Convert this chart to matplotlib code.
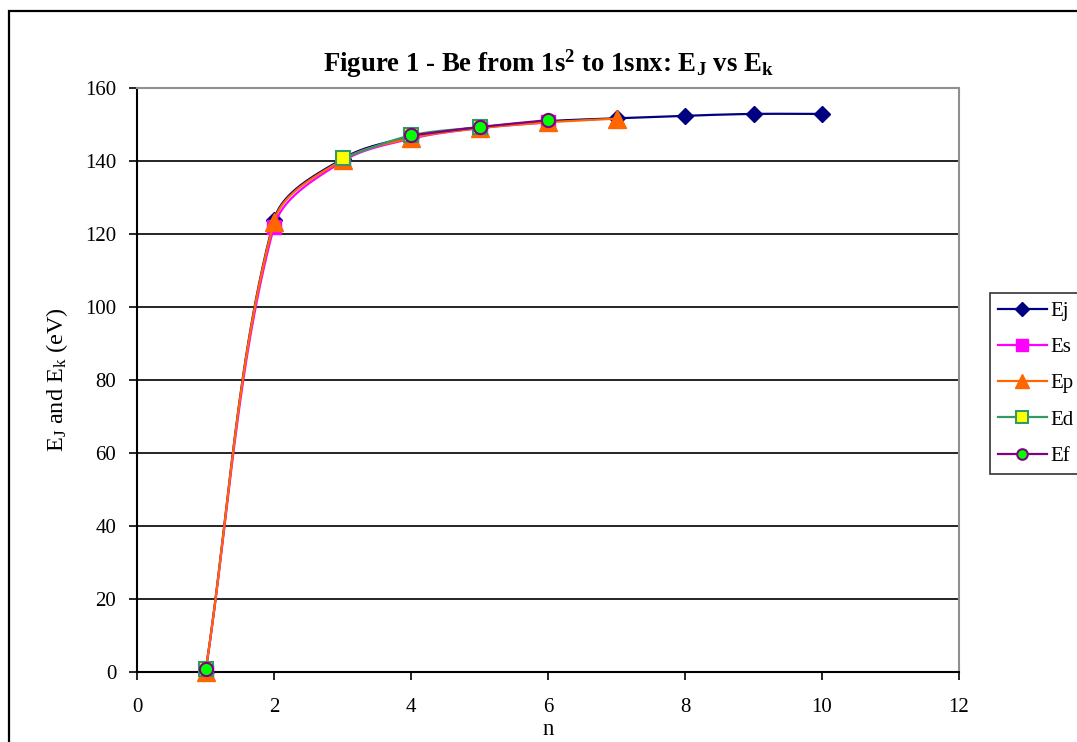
import numpy as np
import matplotlib
matplotlib.use("Agg")
from matplotlib import pyplot as plt
from matplotlib.patches import Rectangle

"""
Be from 1s^2 to 1snx: E_J vs E_k, Excel style smoothed lines
"""

plt.rcParams['font.family'] = ['Liberation Serif', 'DejaVu Serif']
plt.rcParams['mathtext.fontset'] = 'custom'
plt.rcParams['mathtext.rm'] = 'Liberation Serif'
plt.rcParams['mathtext.it'] = 'Liberation Serif'
plt.rcParams['mathtext.bf'] = 'Liberation Serif:bold'

# data
n_j = [1, 2, 3, 4, 5, 6, 7, 8, 9, 10]
e_j = [0.0, 123.8, 140.6, 146.6, 149.2, 150.9, 151.7, 152.4, 152.9, 152.9]
n_s = [1, 2, 3, 4, 5, 6]
e_s = [0.0, 122.0, 139.9, 146.1, 149.0, 150.6]
n_p = [1, 2, 3, 4, 5, 6, 7]
e_p = [0.0, 123.4, 140.3, 146.3, 149.0, 150.6, 151.6]
n_d = [1, 3, 4, 5]
e_d = [0.7, 140.8, 147.0, 149.3]
n_f = [1, 4, 5, 6]
e_f = [0.7, 147.0, 149.3, 151.2]

x_ticks = [0, 2, 4, 6, 8, 10, 12]
y_ticks = [0, 20, 40, 60, 80, 100, 120, 140, 160]

# pixel scale of the plot area, so the smoothing works in screen space
SX = 822 / 12.
SY = 584 / 160.


def smooth(xs, ys, k=30):
    # chord-length catmull-rom, close to excel's smoothed line
    p = np.column_stack([np.array(xs) * SX, np.array(ys) * SY]).astype(float)
    p = np.vstack([p[0], p, p[-1]])
    t = np.linspace(0, 1, k)[:, None]
    out = []
    for i in range(1, len(p) - 2):
        p0, p1, p2, p3 = p[i - 1], p[i], p[i + 1], p[i + 2]
        d01 = np.hypot(*(p1 - p0))
        d12 = np.hypot(*(p2 - p1))
        d23 = np.hypot(*(p3 - p2))
        m1 = (p2 - p0) / max(d01 + d12, 1e-9)
        m2 = (p3 - p1) / max(d12 + d23, 1e-9)
        c1 = p1 + m1 * d12 / 3.
        c2 = p2 - m2 * d12 / 3.
        seg = ((1 - t) ** 3) * p1 + 3 * ((1 - t) ** 2) * t * c1 + 3 * (1 - t) * t ** 2 * c2 + t ** 3 * p2
        out.append(seg)
    out = np.vstack(out)
    return out[:, 0] / SX, out[:, 1] / SY


def runs(xs, ys):
    # excel leaves a gap where a cell is blank
    parts, cur = [], [0]
    for i in range(1, len(xs)):
        if xs[i] - xs[i - 1] == 1:
            cur.append(i)
        else:
            parts.append(cur)
            cur = [i]
    parts.append(cur)
    return [([xs[i] for i in c], [ys[i] for i in c]) for c in parts]


fig = plt.figure(figsize=(10.77, 7.42), dpi=100)
fig.patches.append(Rectangle((8.5 / 1077, -0.1), 1.2, (742 - 11) / 742 + 0.1,
                             transform=fig.transFigure, fill=False,
                             edgecolor='black', linewidth=1.6))

ax = fig.add_axes([137 / 1077, 70 / 742, 822 / 1077, 584 / 742])

series = [
    ('Ej', n_j, e_j, '#000080', dict(marker='D', ms=8.5, mfc='#000080', mec='#000080')),
    ('Es', n_s, e_s, '#FF00FF', dict(marker='s', ms=10, mfc='#FF00FF', mec='#FF00FF')),
    ('Ep', n_p, e_p, '#FF6600', dict(marker='^', ms=13, mfc='#FF6600', mec='#FF6600')),
    ('Ed', n_d, e_d, '#339966', dict(marker='s', ms=10.5, mfc='#FFFF00', mec='#339966', mew=1.5)),
    ('Ef', n_f, e_f, '#800080', dict(marker='o', ms=9.5, mfc='#00FF00', mec='#800080', mew=1.5)),
]

for z, (name, xs, ys, col, mk) in enumerate(series):
    for rx, ry in runs(xs, ys):
        if len(rx) > 1:
            sx, sy = smooth(rx, ry)
            ax.plot(sx, sy, color=col, lw=1.6, zorder=3 + z, solid_capstyle='round')
    ax.plot(xs, ys, linestyle='none', zorder=3 + z, clip_on=False, **mk)
    ax.plot([], [], color=col, lw=1.6, label=name, **mk)

ax.set_xlim(0, 12)
ax.set_ylim(0, 160)
ax.set_xticks(x_ticks)
ax.set_yticks(y_ticks)
ax.tick_params(direction='out', length=6, width=1.2, labelsize=15)
ax.tick_params(axis='x', pad=13)
ax.tick_params(axis='y', pad=9)
ax.yaxis.grid(True, color='black', linewidth=1.2)
ax.set_axisbelow(True)
for s in ['top', 'right']:
    ax.spines[s].set_color('#909090')
    ax.spines[s].set_linewidth(1.5)
for s in ['left', 'bottom']:
    ax.spines[s].set_linewidth(1.5)

ax.set_xlabel('n', fontsize=16.5, labelpad=1)
ax.set_ylabel(r'E$_{\mathrm{J}}$ and E$_{\mathrm{k}}$ (eV)', fontsize=17.5, labelpad=11)
ax.set_title(r'Figure 1 - Be from 1s$^{\mathbf{2}}$ to 1snx: E$_{\mathbf{J}}$ vs E$_{\mathbf{k}}$',
             fontsize=19.3, fontweight='bold', pad=12)

leg = fig.legend(loc='upper left', bbox_to_anchor=(989.5 / 1077, 1 - 293 / 742),
                 frameon=True, fancybox=False, fontsize=15, labelspacing=0.8,
                 handlelength=2.35, handletextpad=0.15, borderpad=0.4,
                 borderaxespad=0, markerscale=0.8)
leg.get_frame().set_edgecolor('black')
leg.get_frame().set_linewidth(1.2)

fig.savefig('out.png', dpi=100)
